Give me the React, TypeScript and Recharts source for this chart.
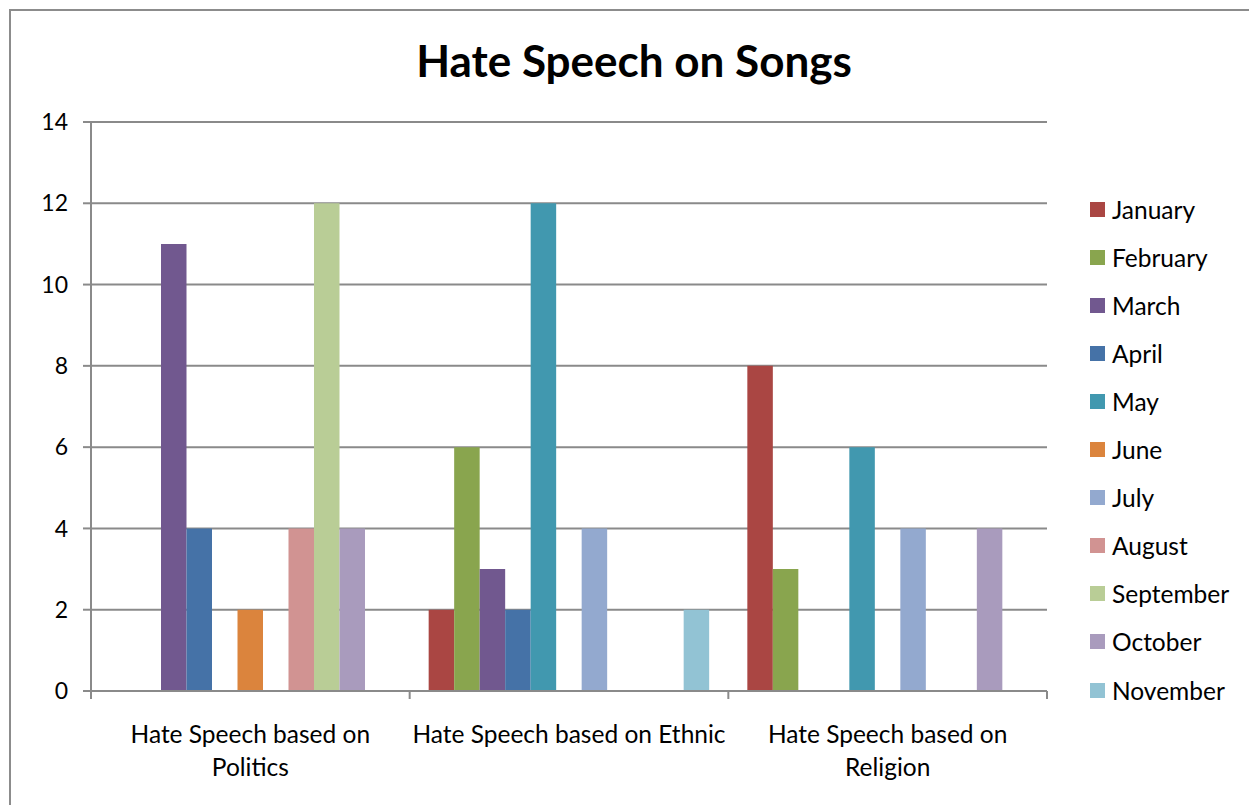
import React from "react";
import { BarChart, Bar, XAxis, YAxis, CartesianGrid } from "recharts";

const categories = [
  "Hate Speech based on Politics",
  "Hate Speech based on Ethnic",
  "Hate Speech based on Religion",
];
const categoryLines = [
  ["Hate Speech based on", "Politics"],
  ["Hate Speech based on Ethnic"],
  ["Hate Speech based on", "Religion"],
];
const months = [
  "January",
  "February",
  "March",
  "April",
  "May",
  "June",
  "July",
  "August",
  "September",
  "October",
  "November",
];
const monthColors = [
  "#AA4643",
  "#89A54E",
  "#71588F",
  "#4572A7",
  "#4198AF",
  "#DB843D",
  "#93A9CF",
  "#D19392",
  "#B9CD96",
  "#A99BBD",
  "#92C3D4",
];
// values per month: [Politics, Ethnic, Religion]
const january = [0, 2, 8];
const february = [0, 6, 3];
const march = [11, 3, 0];
const april = [4, 2, 0];
const may = [0, 12, 6];
const june = [2, 0, 0];
const july = [0, 4, 4];
const august = [4, 0, 0];
const september = [12, 0, 0];
const october = [4, 0, 4];
const november = [0, 2, 0];
const yTicks = [0, 2, 4, 6, 8, 10, 12, 14];

const seriesValues = [
  january,
  february,
  march,
  april,
  may,
  june,
  july,
  august,
  september,
  october,
  november,
];

const data = categories.map((name, i) => {
  const row: Record<string, string | number> = { name };
  months.forEach((m, j) => {
    row[m] = seriesValues[j][i];
  });
  return row;
});

const FONT = "Lato, 'Open Sans', sans-serif";
const GRID = "#8a8a8a";

function CategoryTick(props: any) {
  const { x, y, payload, index } = props;
  const half = payload && payload.offset ? payload.offset : 956 / 6;
  const lines = categoryLines[index] || [String(payload.value)];
  return (
    <g>
      <line x1={x - half} x2={x - half} y1={y} y2={y + 8} stroke={GRID} strokeWidth={2} />
      {index === categories.length - 1 && (
        <line x1={x + half} x2={x + half} y1={y} y2={y + 8} stroke={GRID} strokeWidth={2} />
      )}
      {lines.map((t, k) => (
        <text
          key={k}
          x={x}
          y={y + 42 + k * 33}
          textAnchor="middle"
          dominantBaseline="central"
          fill="#000"
          fontSize={24.5}
          fontFamily={FONT}
        >
          {t}
        </text>
      ))}
    </g>
  );
}

export default function App() {
  return (
    <div
      style={{
        position: "absolute",
        left: 0,
        top: 0,
        width: 1249,
        height: 805,
        overflow: "hidden",
        background: "#fff",
        fontFamily: FONT,
      }}
    >
      <div
        style={{
          position: "absolute",
          left: 9,
          top: 9,
          width: 1400,
          height: 1000,
          border: "2px solid #8c8c8c",
          boxSizing: "border-box",
        }}
      />
      <div
        style={{
          position: "absolute",
          left: 0,
          width: 1268,
          top: 33,
          lineHeight: "54px",
          textAlign: "center",
          fontSize: 44,
          fontWeight: 700,
          color: "#000",
        }}
      >
        Hate Speech on Songs
      </div>
      <div style={{ position: "absolute", left: 0, top: 0 }}>
        <BarChart
          width={1249}
          height={805}
          data={data}
          margin={{ top: 122, right: 202, bottom: 14, left: 0 }}
          barSize={25.5}
          barGap={0}
        >
          <CartesianGrid vertical={false} stroke={GRID} strokeWidth={2} />
          <XAxis
            dataKey="name"
            height={100}
            tickLine={false}
            tickSize={0}
            tickMargin={0}
            axisLine={{ stroke: GRID, strokeWidth: 2 }}
            tick={<CategoryTick />}
            interval={0}
          />
          <YAxis
            width={91}
            domain={[0, 14]}
            ticks={yTicks}
            interval={0}
            tickSize={8}
            tickMargin={15}
            axisLine={{ stroke: GRID, strokeWidth: 2 }}
            tickLine={{ stroke: GRID, strokeWidth: 2 }}
            tick={{ fill: "#000", fontSize: 23, fontFamily: FONT }}
          />
          {months.map((m, j) => (
            <Bar key={m} dataKey={m} fill={monthColors[j]} isAnimationActive={false} />
          ))}
        </BarChart>
      </div>
      {months.map((m, j) => (
        <div
          key={m}
          style={{
            position: "absolute",
            left: 1090,
            top: 210 + j * 48.1 - 16,
            height: 30,
            display: "flex",
            alignItems: "center",
            fontSize: 24.5,
            color: "#000",
          }}
        >
          <span
            style={{
              display: "inline-block",
              width: 15,
              height: 15,
              background: monthColors[j],
              marginRight: 7,
            }}
          />
          {m}
        </div>
      ))}
    </div>
  );
}
